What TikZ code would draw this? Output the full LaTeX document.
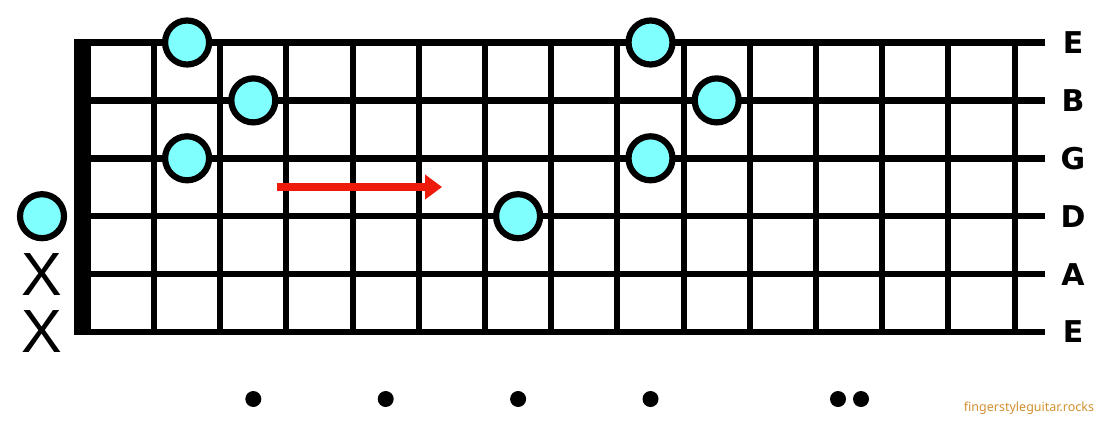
\documentclass[tikz,border=0pt]{standalone}
\usepackage{fontspec}
\setmainfont{DejaVu Sans}
\newfontfamily\xfont{Liberation Sans}
\newfontfamily\wmfont{Noto Sans}
\usetikzlibrary{arrows.meta}
\definecolor{notecyan}{HTML}{80FFFF}
\definecolor{arrowred}{HTML}{EE1B0B}
\definecolor{wmorange}{HTML}{D18F2E}
\tikzset{
  stringline/.style={line width=6.5pt},
  fretline/.style={line width=6pt},
  note/.style={circle, draw=black, fill=notecyan, line width=6.2pt, minimum size=44pt, inner sep=0pt},
  inlay/.style={circle, fill=black, minimum size=16pt, inner sep=0pt},
  stringlabel/.style={font=\bfseries\fontsize{30}{30}\selectfont, inner sep=0pt},
  mutemark/.style={font=\xfont\fontsize{61}{61}\selectfont, inner sep=0pt},
}
\begin{document}
\begin{tikzpicture}[x=1pt,y=-1pt]
\useasboundingbox (0,0) rectangle (1099,424);
% strings
\foreach \s in {0,...,5} {
  \draw[stringline] (74,{42.5+57.9*\s}) -- (1045,{42.5+57.9*\s});
}
% frets
\foreach \f in {1,...,14} {
  \draw[fretline] ({154+66.2*(\f-1)},39.25) -- ({154+66.2*(\f-1)},335.25);
}
% nut
\fill (74,39.25) rectangle (91,335.25);
% string labels
\node[stringlabel] (lE1) at (1073,42.5) {E};
\node[stringlabel] (lB) at (1073,100.4) {B};
\node[stringlabel] (lG) at (1073,158.3) {G};
\node[stringlabel] (lD) at (1073,216.2) {D};
\node[stringlabel] (lA) at (1073,274.1) {A};
\node[stringlabel] (lE6) at (1073,332) {E};
% open / muted strings
\node[note] (open) at (42,216.2) {};
\node[mutemark] (x5) at (42,274.1) {X};
\node[mutemark] (x6) at (42,332) {X};
% notes
\node[note] (n1) at (187.1,42.5) {};
\node[note] (n2) at (253.3,100.4) {};
\node[note] (n3) at (187.1,158.3) {};
\node[note] (n4) at (518.1,216.2) {};
\node[note] (n5) at (650.5,42.5) {};
\node[note] (n6) at (716.7,100.4) {};
\node[note] (n7) at (650.5,158.3) {};
% arrow
\coordinate (a1) at (277,187);
\coordinate (a2) at (442,187);
\draw[arrowred, line width=8pt, -{Triangle[length=17pt 0 0,width=24pt 0 0]}] (a1) -- (a2);
% inlays
\node[inlay] (d3) at (253.3,399) {};
\node[inlay] (d5) at (385.7,399) {};
\node[inlay] (d7) at (518.1,399) {};
\node[inlay] (d9) at (650.5,399) {};
\node[inlay] (d12a) at (838,399) {};
\node[inlay] (d12b) at (861,399) {};
% watermark
\node[text=wmorange, font=\wmfont\fontsize{12.5}{12.5}\selectfont, inner sep=0pt] (wm) at (1029,408) {fingerstyleguitar.rocks};
\end{tikzpicture}
\end{document}
